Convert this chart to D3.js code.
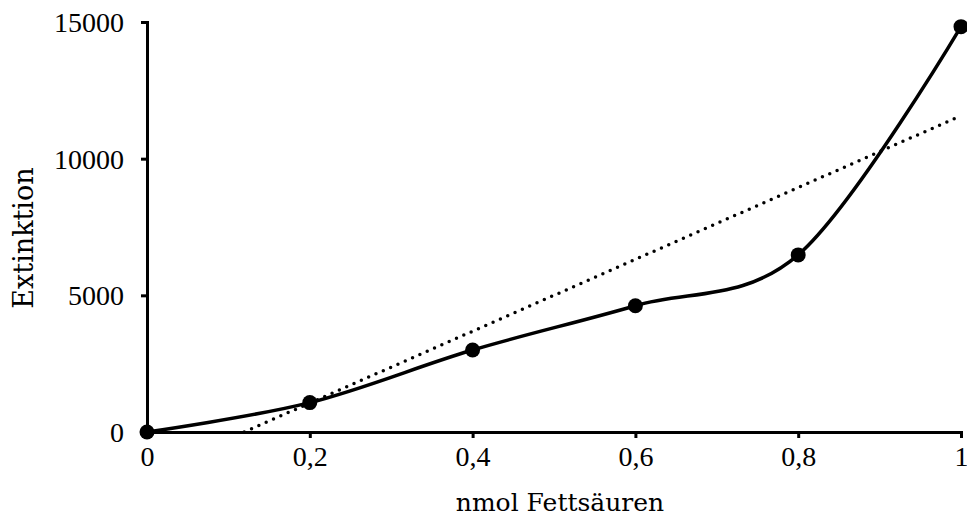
<!DOCTYPE html>
<html>
<head>
<meta charset="utf-8">
<script src="https://cdn.jsdelivr.net/npm/d3@7"></script>
<style>
  body { margin: 0; background: #fff; }
  .tick text { font-family: "Liberation Serif", serif; font-size: 28px; fill: #000; }
  .axis-label { font-family: "DejaVu Serif", serif; fill: #000; }
</style>
</head>
<body>
<div id="chart"></div>
<script>
// values
const xValues = [0, 0.2, 0.4, 0.6, 0.8, 1];
const yValues = [0, 1075, 3000, 4620, 6480, 14830];
const xTicks = [0, 0.2, 0.4, 0.6, 0.8, 1];
const yTicks = [0, 5000, 10000, 15000];

const MARGIN = { LEFT: 147, RIGHT: 6, TOP: 22, BOTTOM: 85 }
const WIDTH = 967 - MARGIN.LEFT - MARGIN.RIGHT
const HEIGHT = 517 - MARGIN.TOP - MARGIN.BOTTOM

const svg = d3.select("#chart").append("svg")
  .attr("width", WIDTH + MARGIN.LEFT + MARGIN.RIGHT)
  .attr("height", HEIGHT + MARGIN.TOP + MARGIN.BOTTOM);

const g = svg.append("g")
  .attr("transform", `translate(${MARGIN.LEFT}, ${MARGIN.TOP})`);

const x = d3.scaleLinear().domain([0, 1]).range([0, WIDTH]);
const y = d3.scaleLinear().domain([0, 15000]).range([HEIGHT, 0]);

const fmt = d => String(d).replace(".", ",");

// Axes
const xAxisCall = d3.axisBottom(x).tickValues(xTicks).tickFormat(fmt).tickSize(6).tickPadding(8);
const xAxis = g.append("g")
  .attr("class", "x axis")
  .attr("transform", `translate(0, ${HEIGHT})`)
  .call(xAxisCall);

const yAxisCall = d3.axisLeft(y).tickValues(yTicks).tickFormat(d => d).tickSize(6).tickPadding(17);
const yAxis = g.append("g")
  .attr("class", "y axis")
  .call(yAxisCall);

[xAxis, yAxis].forEach(a => {
  a.select(".domain").attr("stroke", "#000").attr("stroke-width", 3);
  a.selectAll(".tick line").attr("stroke", "#000").attr("stroke-width", 3);
});
yAxis.selectAll(".tick text").attr("dy", "0.34em");

// Labels
g.append("text")
  .attr("class", "x axis-label")
  .attr("x", WIDTH / 2 + 6)
  .attr("y", HEIGHT + 79)
  .attr("font-size", "25px")
  .attr("text-anchor", "middle")
  .text("nmol Fettsäuren");

g.append("text")
  .attr("class", "y axis-label")
  .attr("x", -(HEIGHT / 2) - 11)
  .attr("y", -114)
  .attr("font-size", "27px")
  .attr("text-anchor", "middle")
  .attr("transform", "rotate(-90)")
  .text("Extinktion");

const data = xValues.map((v, i) => ({ x: v, y: yValues[i] }));

// linear trendline (least squares)
const mx = d3.mean(data, d => d.x), my = d3.mean(data, d => d.y);
const slope = d3.sum(data, d => (d.x - mx) * (d.y - my)) / d3.sum(data, d => (d.x - mx) ** 2);
const icpt = my - slope * mx;
const x0 = Math.max(0, -icpt / slope);

g.append("line")
  .attr("x1", x(x0)).attr("y1", y(icpt + slope * x0))
  .attr("x2", x(1)).attr("y2", y(icpt + slope * 1))
  .attr("stroke", "#000")
  .attr("stroke-width", 3.5)
  .attr("stroke-linecap", "round")
  .attr("stroke-dasharray", "0 8");

const line = d3.line()
  .x(d => x(d.x))
  .y(d => y(d.y))
  .curve(d3.curveCardinal.tension(0));

g.append("path")
  .datum(data)
  .attr("fill", "none")
  .attr("stroke", "#000")
  .attr("stroke-width", 3.5)
  .attr("d", line);

g.selectAll("circle")
  .data(data)
  .enter().append("circle")
  .attr("cx", d => x(d.x))
  .attr("cy", d => y(d.y))
  .attr("r", 7.5)
  .attr("fill", "#000");
</script>
</body>
</html>
